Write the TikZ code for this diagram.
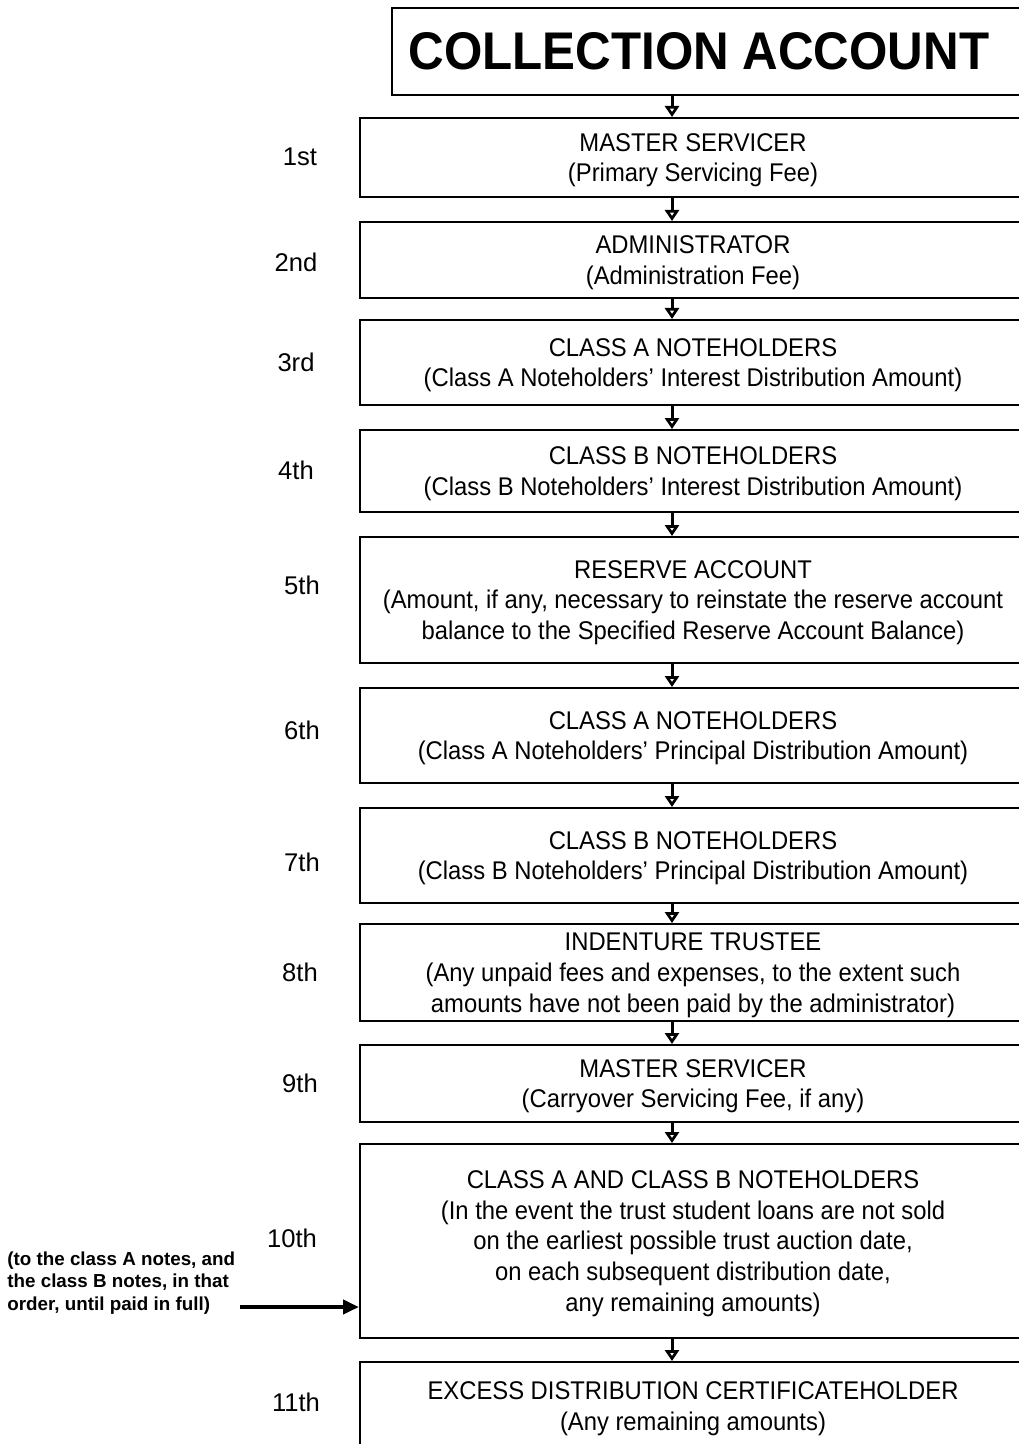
\documentclass[tikz,border=0pt]{standalone}
\usepackage{fontspec}
\setmainfont{Liberation Sans}
\newfontfamily\boxfont[FakeStretch=0.93]{Liberation Sans}
\usetikzlibrary{arrows.meta}
\tikzset{
  box/.style={draw,line width=1pt,inner sep=0pt,align=center,minimum width=333pt,
    text depth=0pt,font=\fontsize{12.8}{15.4}\selectfont\boxfont},
  rank/.style={font=\fontsize{12.8}{15}\selectfont},
  note/.style={align=left,inner sep=0pt,font=\fontsize{9.4}{11.3}\selectfont\bfseries},
  flow/.style={line width=1.5pt,-{Triangle[open,length=5.5pt,width=7pt]}},
  feed/.style={line width=2pt,-{Triangle[length=8pt,width=7pt]}}
}
\begin{document}
\begin{tikzpicture}[x=0.5pt,y=-0.5pt]
      \useasboundingbox (0,0) rectangle (1018,1444);
      \path
        (709,51.5) node[box,minimum width=317pt,minimum height=43.5pt,
          font=\fontsize{26.5}{30}\selectfont\boxfont\bfseries] (top){COLLECTION ACCOUNT\hspace*{10pt}}
        (693,157.5) node[box,minimum height=39.5pt] (b1){MASTER SERVICER\\(Primary Servicing Fee)}
        (693,260) node[box,minimum height=38pt] (b2){ADMINISTRATOR\\(Administration Fee)}
        (693,362.5) node[box,minimum height=42.5pt] (b3){CLASS A NOTEHOLDERS\\(Class A Noteholders’ Interest Distribution Amount)}
        (693,471) node[box,minimum height=41pt] (b4){CLASS B NOTEHOLDERS\\(Class B Noteholders’ Interest Distribution Amount)}
        (693,600) node[box,minimum height=63pt] (b5){RESERVE ACCOUNT\\(Amount, if any, necessary to reinstate the reserve account\\balance to the Specified Reserve Account Balance)}
        (693,735.5) node[box,minimum height=47.5pt] (b6){CLASS A NOTEHOLDERS\\(Class A Noteholders’ Principal Distribution Amount)}
        (693,855.5) node[box,minimum height=47.5pt] (b7){CLASS B NOTEHOLDERS\\(Class B Noteholders’ Principal Distribution Amount)}
        (693,972.5) node[box,minimum height=48.5pt] (b8){INDENTURE TRUSTEE\\(Any unpaid fees and expenses, to the extent such\\amounts have not been paid by the administrator)}
        (693,1083.5) node[box,minimum height=38.5pt] (b9){MASTER SERVICER\\(Carryover Servicing Fee, if any)}
        (693,1241) node[box,minimum height=97pt] (b10){CLASS A AND CLASS B NOTEHOLDERS\\(In the event the trust student loans are not sold\\on the earliest possible trust auction date,\\on each subsequent distribution date,\\any remaining amounts)}
        (693,1406) node[box,minimum height=44pt] (b11){EXCESS DISTRIBUTION CERTIFICATEHOLDER\\(Any remaining amounts)};
      \path
        (300,157) node[rank] (r1){1st}
        (296,262) node[rank] (r2){2nd}
        (296,362) node[rank] (r3){3rd}
        (296,470) node[rank] (r4){4th}
        (302,585) node[rank] (r5){5th}
        (302,730) node[rank] (r6){6th}
        (302,862) node[rank] (r7){7th}
        (300,972) node[rank] (r8){8th}
        (300,1083) node[rank] (r9){9th}
        (292,1238) node[rank] (r10){10th}
        (296,1402) node[rank] (r11){11th}
        (7,1283) node[note,anchor=west] (paid){(to the class A notes, and\\the class B notes, in that\\order, until paid in full)};
      \coordinate (ax) at (672,0);
      \coordinate (src) at (240,1307);
      \begin{scope}[flow]
        \draw (top.south -| ax) to (b1.north -| ax);
        \draw (b1.south -| ax) to (b2.north -| ax);
        \draw (b2.south -| ax) to (b3.north -| ax);
        \draw (b3.south -| ax) to (b4.north -| ax);
        \draw (b4.south -| ax) to (b5.north -| ax);
        \draw (b5.south -| ax) to (b6.north -| ax);
        \draw (b6.south -| ax) to (b7.north -| ax);
        \draw (b7.south -| ax) to (b8.north -| ax);
        \draw (b8.south -| ax) to (b9.north -| ax);
        \draw (b9.south -| ax) to (b10.north -| ax);
        \draw (b10.south -| ax) to (b11.north -| ax);
      \end{scope}
      \draw[feed] (src) to (src -| b10.west);
    \end{tikzpicture}
\end{document}
